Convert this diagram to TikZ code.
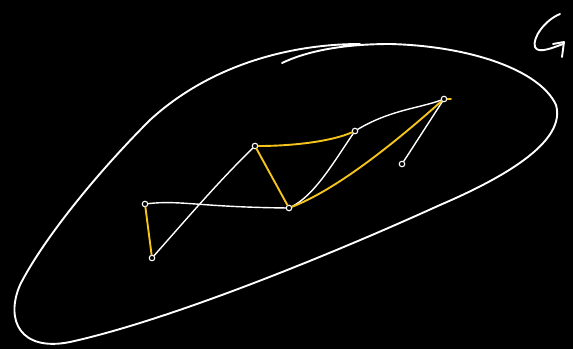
\documentclass[tikz,border=0pt]{standalone}
\definecolor{hl}{RGB}{245,196,28}
\begin{document}
\begin{tikzpicture}[x=1pt,y=-1pt,
  vtx/.style={circle,draw=white,line width=1.1pt,minimum size=5.5pt,inner sep=0pt},
  wedge/.style={draw=white,line width=1.4pt,line cap=round},
  yedge/.style={draw=hl,line width=1.9pt,line cap=round},
  blob/.style={draw=white,line width=1.9pt,line cap=round,line join=round}]
\fill[black] (0,0) rectangle (573,349);
\useasboundingbox (0,0) rectangle (573,349);
% outer region
\draw[blob] (282,63) .. controls (305,52) and (340,44) .. (390,44)
  .. controls (470,46) and (540,70) .. (556,105)
  .. controls (566,140) and (510,175) .. (440,205)
  .. controls (330,255) and (170,320) .. (70,342)
  .. controls (20,352) and (5,320) .. (20,285)
  .. controls (40,245) and (90,180) .. (150,120)
  .. controls (210,65) and (290,44) .. (360,44);
% label G
\draw[blob] (560,14) .. controls (545,20) and (532,38) .. (535,47) .. controls (538,54) and (552,48) .. (563,44);
\draw[blob] (553,44) -- (564,42) -- (562,57);
% vertices
\node[vtx] (A) at (145,204) {};
\node[vtx] (B) at (152,258) {};
\node[vtx] (C) at (255,146) {};
\node[vtx] (D) at (289,208) {};
\node[vtx] (E) at (355,131) {};
\node[vtx] (F) at (444,99) {};
\node[vtx] (H) at (402,164) {};
% white edges
\draw[wedge] (A) .. controls (180,200) and (200,207) .. (D);
\draw[wedge] (B) .. controls (190,215) and (220,180) .. (C);
\draw[wedge] (D) .. controls (315,195) and (335,160) .. (E);
\draw[wedge] (E) .. controls (390,110) and (420,108) .. (F);
\draw[wedge] (F) -- (H);
% yellow edges
\draw[yedge] (A) -- (B);
\draw[yedge] (C) -- (D);
\draw[yedge] (C) .. controls (290,146) and (330,142) .. (E);
\draw[yedge] (D) .. controls (340,188) and (400,138) .. (F);
\coordinate (Ft) at (451,99);
\draw[yedge] (F) -- (Ft);
\end{tikzpicture}
\end{document}
